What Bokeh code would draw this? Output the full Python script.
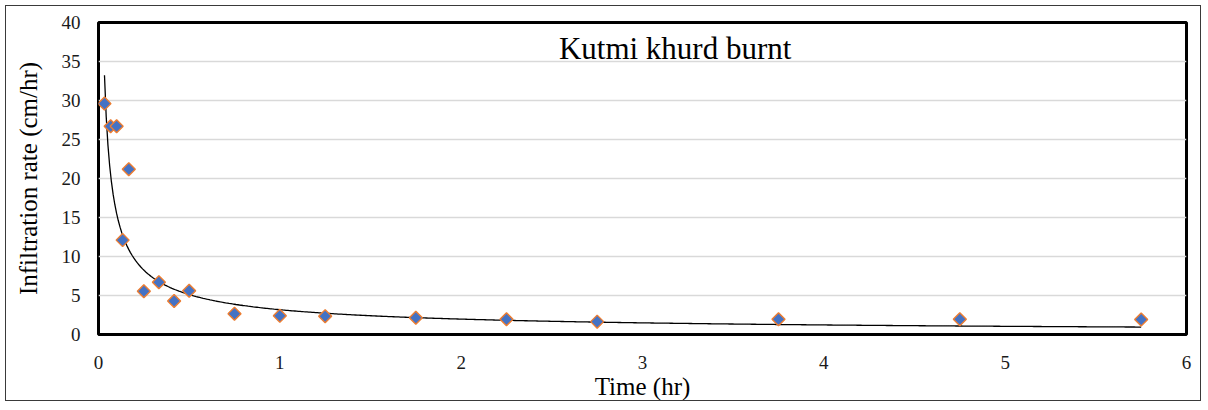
import numpy as np
from bokeh.plotting import figure
from bokeh.models import Label, FixedTicker, Range1d
from bokeh.embed import file_html
from bokeh.resources import INLINE

# Measured infiltration, Kutmi khurd (burnt plot)
time_hr = [0.033, 0.067, 0.1, 0.133, 0.167, 0.25, 0.333, 0.417, 0.5,
           0.75, 1.0, 1.25, 1.75, 2.25, 2.75, 3.75, 4.75, 5.75]
infiltration_cm_hr = [29.6, 26.7, 26.7, 12.1, 21.2, 5.55, 6.7, 4.3, 5.6,
                      2.65, 2.4, 2.35, 2.14, 1.96, 1.65, 1.95, 1.95, 1.92]

x_ticks = [0, 1, 2, 3, 4, 5, 6]
y_ticks = [0, 5, 10, 15, 20, 25, 30, 35, 40]

# Power-law trend line: f = a * t^b
trend_a = 3.18
trend_b = -0.688

title_text = "Kutmi khurd burnt"
x_label = "Time (hr)"
y_label = "Infiltration rate (cm/hr)"

SERIF = "'Liberation Serif', 'Times New Roman', serif"

p = figure(
    width=1196, height=396,
    output_backend="svg", toolbar_location=None,
    x_range=Range1d(0, 6), y_range=Range1d(0, 40),
    min_border_left=92, min_border_right=16,
    min_border_top=16, min_border_bottom=68,
    background_fill_color="white", border_fill_color="white",
)
p.styles = {"border": "1px solid #3a3a3a", "position": "absolute",
            "left": "5px", "top": "5px"}

# frame
p.outline_line_color = "black"
p.outline_line_width = 3

# grid
p.xgrid.visible = False
p.ygrid.grid_line_color = "#D9D9D9"
p.ygrid.grid_line_width = 1.5
p.ygrid.ticker = FixedTicker(ticks=y_ticks)

# axes
for ax in (p.xaxis[0], p.yaxis[0]):
    ax.axis_line_color = None
    ax.major_tick_line_color = None
    ax.minor_tick_line_color = None
    ax.major_tick_out = 0
    ax.major_tick_in = 0
    ax.minor_tick_out = 0
    ax.minor_tick_in = 0
    ax.major_label_text_font = SERIF
    ax.major_label_text_font_size = "19px"
    ax.major_label_text_color = "#1a1a1a"
    ax.axis_label_text_font = SERIF
    ax.axis_label_text_font_size = "25px"
    ax.axis_label_text_font_style = "normal"
    ax.axis_label_text_color = "black"

p.xaxis.ticker = FixedTicker(ticks=x_ticks)
p.yaxis.ticker = FixedTicker(ticks=y_ticks)
p.xaxis.axis_label = x_label
p.yaxis.axis_label = y_label
p.xaxis.major_label_standoff = 21
p.xaxis.axis_label_standoff = 1
p.yaxis.major_label_standoff = 18
p.yaxis.axis_label_standoff = 17

# trend line across the measured time span
t_line = np.linspace(min(time_hr), max(time_hr), 600)
p.line(t_line, trend_a * t_line ** trend_b, line_color="black", line_width=1.3)

# observations
p.scatter(time_hr, infiltration_cm_hr, marker="square", size=9.2, angle=np.pi / 4,
          fill_color="#4472C4", line_color="#ED7D31", line_width=1.4)

# chart title inside the frame
p.add_layout(Label(x=3.18, y=36.67, text=title_text, text_align="center",
                   text_baseline="alphabetic", text_font=SERIF,
                   text_font_size="31px", text_color="black"))

open("out.html", "w").write(file_html(p, INLINE))
